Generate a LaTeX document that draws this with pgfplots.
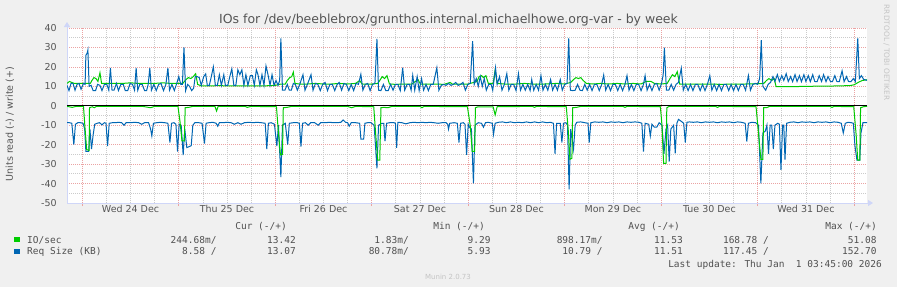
\documentclass[border=0pt]{standalone}
\usepackage{fontspec}
\setmainfont{DejaVu Sans}
\newfontfamily\monofont{DejaVu Sans Mono}
\usepackage{pgfplots}
\pgfplotsset{compat=1.18}
\usetikzlibrary{arrows.meta}
\definecolor{bgcol}{HTML}{F0F0F0}
\definecolor{axcol}{HTML}{CFD6F8}
\definecolor{mgridcol}{HTML}{EBA3A3}
\definecolor{gridcol}{HTML}{CBCBCB}
\definecolor{iogreen}{HTML}{00CC00}
\definecolor{reqblue}{HTML}{0066B3}
\definecolor{txtcol}{HTML}{555555}
\definecolor{legcol}{HTML}{505050}
\definecolor{faint}{HTML}{C4C4C4}
\newcommand{\tf}{\fontsize{9.5}{11}\selectfont}
\newcommand{\mf}{\monofont\fontsize{9.5}{11}\selectfont}
\begin{document}
\begin{tikzpicture}
\useasboundingbox (0,0) rectangle (897pt,287pt);
\fill[bgcol] (0,0) rectangle (897pt,287pt);
\begin{axis}[
  at={(67pt,84pt)}, anchor=south west,
  scale only axis, width=800pt, height=175pt,
  xmin=-3.8, xmax=195.2, ymin=-50, ymax=40,
  axis background/.style={fill=white},
  axis lines*=left,
  axis line style={axcol, line width=0.8pt},
  x axis line style={-{Triangle[length=5pt,width=6pt]}, shorten >=-6pt},
  y axis line style={-{Triangle[length=5pt,width=6pt]}, shorten >=-6pt},
  xtick={0,24,...,192}, xticklabels={},
  minor x tick num=3,
  extra x ticks={12,36,...,180},
  extra x tick labels={Wed 24 Dec,Thu 25 Dec,Fri 26 Dec,Sat 27 Dec,Sun 28 Dec,Mon 29 Dec,Tue 30 Dec,Wed 31 Dec},
  extra x tick style={grid=none, major tick length=0pt},
  ytick={-50,-40,...,40},
  yticklabels={-50,-40,-30,-20,-10,0,10,20,30,40},
  minor y tick num=1,
  grid=both,
  major grid style={draw=mgridcol, dash pattern=on 1pt off 1pt, line width=0.7pt},
  minor grid style={draw=gridcol, dash pattern=on 1pt off 1pt, line width=0.7pt},
  tick align=outside,
  major tick length=3pt, minor tick length=0pt,
  xtick style={draw=mgridcol, line width=0.7pt},
  ytick style={draw=none},
  xticklabel style={font=\tf, text=txtcol, anchor=base, yshift=-9pt},
  yticklabel style={font=\tf, text=txtcol, anchor=east, xshift=-3.8pt},
  clip=true,
]
% Req Size read (negative)
\addplot[reqblue, line width=1pt] coordinates {
(-3.8,-8.7) (-3.2,-8.7) (-2.6,-9) (-2.1,-20) (-1.7,-9.5) (-1.1,-8.7) (-0.5,-8.7) (0.2,-9) (0.6,-12) (0.9,-23.5) (1.6,-23.5) (1.9,-12) (2.3,-22.3) (2.7,-15) (3.1,-9.5) (3.7,-9) (4.3,-8.7) (4.9,-9.8) (5.5,-8.7) (5.9,-9) (6.3,-20.7) (6.7,-9) (7.5,-8.7) (8.3,-8.7) (9.0,-8.5) (9.8,-8.7) (10.4,-10) (10.9,-8.7) (12,-8.7) (13,-8.5) (14,-8.7) (14.8,-9.5) (15.5,-8.7) (16.5,-8.7) (17.0,-12) (17.3,-15.5) (17.7,-9) (18.5,-8.7) (19.5,-8.5) (20.5,-8.7) (21.3,-9) (21.8,-18.9) (22.2,-9) (22.8,-8.7) (23.3,-9.5) (23.7,-23.5) (24.1,-9.5) (24.6,-10) (25.1,-25.3) (25.5,-12) (26.0,-21.5) (26.6,-21) (27.1,-20.5) (27.5,-10) (28,-8.7) (29,-8.7) (29.8,-9) (30.4,-19.4) (30.8,-9) (31.5,-8.7) (32.5,-8.5) (33.3,-9) (33.7,-10.5) (34.1,-8.7) (35,-8.7) (36,-8.5) (37,-8.7) (37.8,-9.5) (38.7,-8.7) (39.5,-9.5) (40.3,-8.7) (41.5,-8.5) (42.5,-8.7) (43.5,-8.5) (44.5,-8.7) (45.5,-9) (45.9,-22.3) (46.3,-9) (47,-8.7) (47.8,-9.5) (48.4,-20.7) (48.8,-10) (49.4,-36.7) (49.8,-10) (50.5,-9) (51.1,-20) (51.5,-9) (52.5,-8.7) (53.5,-8.7) (54.0,-9) (54.4,-21) (54.8,-9) (55.5,-8.7) (56.2,-10) (56.8,-8.7) (57.8,-8.7) (58.7,-10) (59.3,-8.7) (60.5,-8.7) (61.5,-8.5) (62.5,-8.7) (63.5,-8.7) (64.3,-8.5) (64.9,-7.3) (65.5,-8.5) (66.0,-8.7) (66.4,-10.5) (66.9,-8.7) (68,-8.7) (69.0,-9) (69.3,-17.1) (70.0,-17.1) (70.3,-9) (71,-8.7) (71.8,-8.7) (72.3,-9.5) (72.6,-10) (73.3,-32.2) (73.7,-10) (74.5,-9) (75.0,-9) (75.3,-18.2) (75.7,-9) (76.5,-8.7) (77.5,-8.7) (77.9,-9) (78.2,-21.7) (78.5,-8.5) (79.5,-8.7) (80.5,-9.3) (81.5,-8.7) (82.5,-8.5) (83.5,-8.7) (84.5,-8.5) (85.5,-8.7) (86.5,-8.5) (87.5,-8.7) (88.5,-9) (89.5,-8.7) (90.5,-8.7) (90.9,-9.5) (91.1,-12) (91.4,-9) (92.5,-8.7) (93.3,-9) (93.7,-18.9) (94.1,-9) (94.8,-8.7) (95.2,-9.5) (95.6,-25.3) (96.0,-9.5) (96.3,-11) (96.8,-12) (97.3,-39.9) (97.7,-10) (98.5,-8.7) (99.3,-9) (99.8,-11) (100.3,-8.7) (101,-8.5) (102.0,-9) (102.3,-14.7) (102.7,-9) (103.5,-8.5) (104.5,-8.3) (105.5,-8.7) (106.5,-8.3) (107.5,-8.7) (108.5,-8.5) (109.5,-8.7) (110.5,-8.3) (111.5,-8.7) (112.5,-8.3) (113.5,-8.7) (114.5,-8.3) (115.5,-8.7) (116.5,-8.5) (117.2,-9) (117.6,-24.7) (118.0,-9) (118.9,-9) (119.3,-18.9) (119.7,-9) (120.3,-8.7) (120.7,-10) (121.1,-43) (121.5,-12) (122.2,-22.3) (122.6,-10) (123,-8.5) (124,-8.3) (125,-8.7) (125.8,-9) (126.1,-18.9) (126.5,-8.7) (127.5,-8.3) (128.5,-8.5) (129.5,-8.3) (130.5,-8.7) (131.5,-8.3) (132.5,-8.5) (133.5,-8.3) (134.5,-8.7) (135.5,-8.3) (136.5,-8.5) (137.5,-8.3) (138.5,-8.5) (139.2,-9) (139.6,-23.5) (140.0,-9) (140.9,-9.5) (141.3,-15.5) (141.7,-9.5) (142.3,-11) (142.9,-11) (143.5,-8.7) (144.2,-10) (144.7,-24.7) (145.2,-12) (145.6,-10) (146.0,-28.7) (146.4,-12) (147.1,-10) (147.5,-24.4) (147.9,-9) (148.3,-7) (149.0,-8) (149.6,-9) (150.0,-18.9) (150.4,-8.5) (151,-8.3) (152,-8.5) (153,-8.3) (154,-8.7) (155,-8.3) (156,-8.5) (157,-8.3) (158,-8.7) (159,-8.3) (160,-8.5) (161,-8.3) (162,-8.7) (163,-8.3) (164,-8.5) (164.9,-9) (165.3,-18.4) (165.7,-9) (166.5,-8.5) (167.5,-8.7) (168.2,-10) (168.8,-39.9) (169.3,-14) (169.9,-13) (170.3,-10) (170.7,-24.7) (171.1,-10) (171.5,-10) (171.9,-22.3) (172.3,-10) (173.0,-9) (173.4,-9.5) (173.8,-33) (174.2,-10) (174.5,-10) (174.8,-27.7) (175.2,-9) (176,-8.5) (177,-8.3) (178,-8.7) (179,-8.3) (180,-8.5) (181,-8.3) (182,-8.7) (183,-8.3) (184,-8.5) (185,-8.3) (186,-8.7) (187,-8.3) (188,-8.5) (188.8,-9) (189.3,-14) (189.8,-9) (190.5,-8.5) (191.3,-8.7) (191.8,-9) (192.2,-20.6) (192.7,-28) (193.4,-28) (193.7,-14) (194.2,-8.6) (195.2,-8.6)
};
% IO/sec read (negative)
\addplot[iogreen, line width=1pt] coordinates {
(-3.8,-0.3) (-2.5,-0.8) (-1.5,-0.3) (0.3,-0.3) (0.7,-12) (1.1,-22.5) (1.7,-23) (1.8,-1) (2.5,-0.5) (3,-1) (3.5,-0.3) (8,-0.3) (15,-0.3) (17,-1) (18,-0.3) (23.8,-0.3) (24.3,-8) (24.8,-18) (25.4,-18) (25.6,-1) (26.5,-0.8) (27.5,-0.3) (33,-0.3) (33.4,-2.7) (33.8,-0.3) (40.5,-0.3) (41,-0.8) (42,-0.3) (48.3,-0.5) (48.8,-14) (49.3,-25.3) (49.8,-25) (50,-1) (51,-0.8) (52,-0.3) (66,-0.3) (67,-1) (68,-0.3) (72.5,-0.5) (73,-15) (73.5,-28) (74,-28) (74.3,-1) (75,-0.8) (76,-1) (77,-0.3) (84,-0.3) (84.5,-1) (85,-0.3) (95.8,-0.5) (96.5,-10) (97,-23.5) (97.6,-23.5) (97.8,-1) (98.5,-0.5) (102.2,-0.5) (102.7,-4.7) (103.2,-0.5) (112,-0.3) (112.5,-0.8) (113,-0.3) (120.4,-0.5) (120.9,-13) (121.3,-27.5) (121.8,-27) (122,-1) (123,-0.8) (124,-0.3) (134.5,-0.3) (135,-0.8) (135.5,-0.3) (143.8,-0.5) (144.2,-10) (144.6,-29.6) (145.2,-29.6) (145.4,-1) (146,-0.3) (157.5,-0.3) (158,-0.8) (158.5,-0.3) (167.6,-0.5) (168.2,-14) (168.8,-27.5) (169.3,-27.5) (169.5,-1) (170.2,-1) (171,-0.3) (186,-0.3) (186.5,-0.8) (187,-0.3) (191.9,-0.5) (192.5,-15) (192.9,-28) (193.4,-28) (193.6,-1) (194.3,-0.5) (195.2,-0.25)
};
% IO/sec write (positive)
\addplot[iogreen, line width=1pt] coordinates {
(-3.8,11.5) (-3.2,12.5) (-2.6,12) (-2,11.5) (-1,11.5) (0,11.5) (1,11.5) (2,11.5) (2.4,13) (2.9,14.5) (3.4,14) (3.9,12.5) (4.4,17) (4.8,11.5) (6,11.5) (8,11.5) (10,11.5) (12,11.8) (14,11.5) (16,11.5) (18,11.5) (20,11.8) (22,11.5) (24,11.5) (25,11.5) (25.8,13.5) (26.4,14.5) (27,14) (27.6,15) (28.2,16.5) (28.7,11) (29.5,10.3) (32,10.2) (34,10.4) (36,10.2) (38,10.3) (40,10.2) (42,10.3) (44,10.2) (46,10.3) (48,10.5) (49.5,11.2) (50.5,11.2) (51,13) (51.6,14.5) (52.1,15) (52.5,17.3) (52.9,11.5) (54,11.2) (56,11.2) (58,11.5) (60,11.2) (62,11.2) (64,11.5) (66,11.2) (68,11.5) (69,13) (69.6,11.2) (72,11.2) (73.5,11.5) (74.0,13) (74.6,15) (75.2,14) (75.8,15.5) (76.4,11.2) (78,11) (80,11.2) (82,11.2) (83.5,13.5) (84.1,11.2) (86,11.2) (88,11.2) (90,11) (91.5,12) (92,11.2) (94,11.2) (96,11.2) (98.2,12.5) (98.7,15) (99.3,15.5) (99.8,14.5) (100.4,15.5) (101.0,11.5) (102.2,11.5) (102.7,18.4) (103.2,11.5) (105,11.2) (108,11.2) (110,11.5) (112,11.2) (115,11.2) (118,11.5) (120,11.2) (121.5,12) (122.2,13.5) (122.8,14.5) (123.4,14) (124,14.5) (124.6,13) (125.4,11.5) (127,11.2) (129,11.5) (131,11.2) (133,11.5) (135,11.2) (137,11.5) (139,11.2) (140.2,12.5) (141.5,12.5) (142.3,11.5) (144,11.2) (145.5,11.5) (146.2,14) (146.8,16) (147.4,15) (148,17.5) (148.6,11.2) (150,11.2) (153,11.2) (156,11.2) (159,11) (162,11.2) (165,11.2) (167,11.3) (169.5,11.5) (170.2,13) (170.8,14) (171.5,13) (172.1,14) (172.6,9.8) (176,9.8) (180,10) (184,10.1) (188,10.2) (191,10.4) (192,10.8) (193,12) (194,13) (195.2,13.4)
};
% Req Size write (positive)
\addplot[reqblue, line width=1pt] coordinates {
(-3.8,10.5) (-3.3,7.8) (-2.8,11.5) (-2.3,11.5) (-1.8,8) (-1.3,11) (-0.8,11.5) (-0.3,8.5) (0.3,11.5) (0.7,11) (0.9,26) (1.2,27) (1.4,28.7) (1.7,10) (2.2,10.5) (2.7,7.8) (3.3,7.8) (3.8,11) (4.4,10.5) (4.9,7.8) (5.5,11) (6.1,11) (6.6,8) (7.0,19.5) (7.4,8) (7.9,8) (8.5,11.5) (9.0,7.8) (9.6,11) (10.2,11) (10.7,7.8) (11.3,7.8) (11.9,11.5) (12.5,11) (13.0,8) (13.4,19.5) (13.8,8) (14.3,11) (14.9,11) (15.5,7.8) (16.0,7.8) (16.4,11) (16.8,19.5) (17.2,8) (17.8,11) (18.4,7.8) (19.0,11) (19.6,11.5) (20.2,7.8) (20.8,11) (21.3,19.5) (21.7,8) (22.3,11) (22.9,7.8) (23.5,11.5) (24.0,15) (24.5,11) (24.9,11) (25.3,30) (25.7,7.8) (26.2,11) (26.7,10) (27.2,7.8) (27.7,9) (28.1,15) (28.6,15) (29.1,14.5) (29.6,10.5) (30.2,15) (30.7,16.4) (31.1,10.5) (31.6,10.5) (32.1,15) (32.6,20) (33.1,10.5) (33.6,10.5) (34.1,16) (34.6,10.5) (35.2,16) (35.6,10.5) (36.2,10.5) (36.7,15) (37.2,19) (37.7,10.5) (38.2,10.5) (38.7,18.5) (39.2,16) (39.7,18.5) (40.2,10.5) (40.7,16) (41.2,10.5) (41.8,15.5) (42.3,15.5) (42.8,10.5) (43.3,18.5) (43.7,16) (44.2,10.5) (44.7,16) (45.2,10.5) (45.7,20.5) (46.2,16) (46.7,10.5) (47.2,16) (47.7,10.5) (48.2,13) (48.7,10.5) (49.1,13) (49.4,34.7) (49.8,8) (50.4,8) (51.0,11) (51.5,8) (52.0,8) (52.5,11.5) (53.0,11) (53.5,8) (54.1,11) (54.9,16) (55.4,8) (56.0,11) (56.9,16) (57.4,8) (58.0,11.5) (58.6,11) (59.2,7.8) (59.8,11) (60.4,12) (61.0,7.8) (61.6,11) (62.2,11) (62.8,7.8) (63.4,11) (63.9,12) (64.5,8) (65.1,11.5) (65.7,11) (66.3,7.8) (66.9,11) (67.5,7.8) (68.1,11.5) (68.7,11) (69.3,16.2) (69.8,8) (70.4,11) (71.0,11.5) (71.6,7.8) (72.2,11) (72.8,11.5) (73.3,34.4) (73.7,8) (74.3,7.8) (74.9,11) (75.5,7.8) (76.1,7.8) (76.7,11) (77.3,8) (77.9,11) (78.5,11) (79.1,7.8) (79.7,19.6) (80.2,8) (80.8,11) (81.4,11) (81.8,8) (82.2,15.6) (82.7,8) (83.3,15) (83.8,7.8) (84.4,14) (84.9,8) (85.5,11) (86.1,7.8) (86.7,11) (87.3,11) (88.2,19.6) (88.7,8) (89.3,10.5) (89.9,11) (90.5,10.5) (91.1,11.5) (91.7,10.5) (92.3,11) (92.9,12) (93.5,10.5) (94.1,11) (94.7,12) (95.3,8) (95.9,11) (96.5,11.5) (97.1,33.3) (97.5,11) (98.0,14) (98.5,10) (99.0,15) (99.5,10) (100.0,14) (100.5,8) (101.1,11) (101.7,11) (102.1,8) (102.8,19.6) (103.2,11) (103.8,15) (104.4,8) (105.0,11) (105.6,16.5) (106.1,8) (106.7,11) (107.3,11) (107.9,7.8) (108.5,16.5) (109.0,8) (109.6,11) (110.2,8) (110.8,11) (111.4,7.8) (111.8,13.5) (112.3,8) (112.9,11) (113.5,8) (114.1,15.5) (114.6,8) (115.2,11) (115.8,8) (116.5,13.5) (117.0,8) (117.6,11) (118.2,8) (118.9,13.5) (119.4,8) (120.0,11) (120.6,11.5) (121.0,34.7) (121.4,8) (122.0,7.8) (122.6,8) (123.2,11) (123.8,8) (124.4,7.8) (125.0,11) (125.6,8) (126.2,11) (126.8,7.8) (127.4,11) (128.0,11) (128.6,7.8) (129.2,11) (129.7,15.8) (130.2,8) (130.8,11) (131.4,7.8) (132.0,11) (132.6,11) (133.2,7.8) (133.8,11) (134.4,7.8) (135.0,11) (135.5,15.5) (136.0,8) (136.6,11) (137.2,7.8) (137.8,11) (138.4,11) (139.0,7.8) (139.6,11) (140.0,15.5) (140.5,8) (141.1,11) (141.7,7.8) (142.3,11) (142.9,11.5) (143.5,8) (144.1,11.5) (144.5,16) (144.8,29.9) (145.3,8) (145.9,8) (146.5,11) (147.1,8) (147.7,11) (148.3,12) (149.0,19.3) (149.5,8) (150.1,11) (150.7,7.8) (151.3,11) (151.9,7.8) (152.5,11) (153.1,11) (153.7,7.8) (154.3,11) (154.9,7.8) (155.5,11) (156.1,15.5) (156.6,8) (157.2,11) (157.8,7.8) (158.4,11) (159.0,7.8) (159.6,11) (160.2,11) (160.8,7.8) (161.4,11) (162.0,7.8) (162.6,11) (163.2,7.8) (163.8,11) (164.4,11) (165.0,8) (165.7,15.5) (166.2,8) (166.8,11) (167.4,11.5) (168.0,11) (168.5,14) (168.9,33.8) (169.3,10) (170.0,8) (170.6,11) (171.2,12) (171.8,15) (172.3,12.5) (172.9,16) (173.4,12.5) (174.0,15.5) (174.5,13) (175.1,16.5) (175.6,12.5) (176.2,15) (176.7,12.4) (177.3,16) (177.8,12.5) (178.4,15.5) (178.9,12.4) (179.5,16) (180.0,12.5) (180.6,15.5) (181.1,12.4) (181.7,16) (182.2,12.5) (182.8,12.4) (183.3,15.5) (183.9,12.5) (184.4,16) (185.0,12.4) (185.5,15) (186.1,12.5) (186.6,12.4) (187.2,15.5) (187.7,12.5) (188.3,12.4) (189.0,18) (189.5,12.4) (190.1,15) (190.6,12.5) (191.2,12.4) (191.8,14) (192.3,12.5) (192.9,34.7) (193.3,14) (193.8,15.5) (194.4,13.5) (195.2,13.1)
};
\draw[black, line width=0.8pt] (axis cs:-3.8,0) -- (axis cs:195.2,0);
\end{axis}
% title and axis label
\node[anchor=base, text=txtcol, font=\fontsize{12.5}{14}\selectfont] at (448.5pt,263pt) {IOs for /dev/beeblebrox/grunthos.internal.michaelhowe.org-var - by week};
\node[rotate=90, text=txtcol, font=\tf] at (10pt,163pt) {Units read (-) / write (+)};
\node[rotate=-90, text=faint, font=\fontsize{7.4}{8}\selectfont] at (886.5pt,234.5pt) {RRDTOOL / TOBI OETIKER};
% legend
\begin{scope}[every node/.style={text=legcol, font=\mf, inner sep=0pt}]
\node[anchor=base east] at (287pt,57.7pt) {Cur (-/+)};
\node[anchor=base east] at (485pt,57.7pt) {Min (-/+)};
\node[anchor=base east] at (680pt,57.7pt) {Avg (-/+)};
\node[anchor=base east] at (877pt,57.7pt) {Max (-/+)};
\fill[iogreen] (14pt,45.3pt) rectangle (19.5pt,50.5pt);
\fill[reqblue] (14pt,33.3pt) rectangle (19.5pt,38.5pt);
\node[anchor=base west] at (27pt,44pt) {IO/sec};
\node[anchor=base east] at (216.7pt,44pt) {244.68m/};
\node[anchor=base east] at (296pt,44pt) {13.42};
\node[anchor=base east] at (409pt,44pt) {1.83m/};
\node[anchor=base east] at (490.7pt,44pt) {9.29};
\node[anchor=base east] at (602.7pt,44pt) {898.17m/};
\node[anchor=base east] at (683pt,44pt) {11.53};
\node[anchor=base east] at (769pt,44pt) {168.78 /};
\node[anchor=base east] at (876.7pt,44pt) {51.08};
\node[anchor=base west] at (27pt,32.7pt) {Req Size (KB)};
\node[anchor=base east] at (216.7pt,32.7pt) {8.58 /};
\node[anchor=base east] at (296pt,32.7pt) {13.07};
\node[anchor=base east] at (409pt,32.7pt) {80.78m/};
\node[anchor=base east] at (490.7pt,32.7pt) {5.93};
\node[anchor=base east] at (602.7pt,32.7pt) {10.79 /};
\node[anchor=base east] at (683pt,32.7pt) {11.51};
\node[anchor=base east] at (769pt,32.7pt) {117.45 /};
\node[anchor=base east] at (876.7pt,32.7pt) {152.70};
\node[anchor=base east] at (882pt,19.7pt) {Last update: Thu Jan\ \ 1 03:45:00 2026};
\end{scope}
\node[anchor=base, text=faint, font=\fontsize{7}{8}\selectfont] at (448pt,8pt) {Munin 2.0.73};
\end{tikzpicture}
\end{document}
